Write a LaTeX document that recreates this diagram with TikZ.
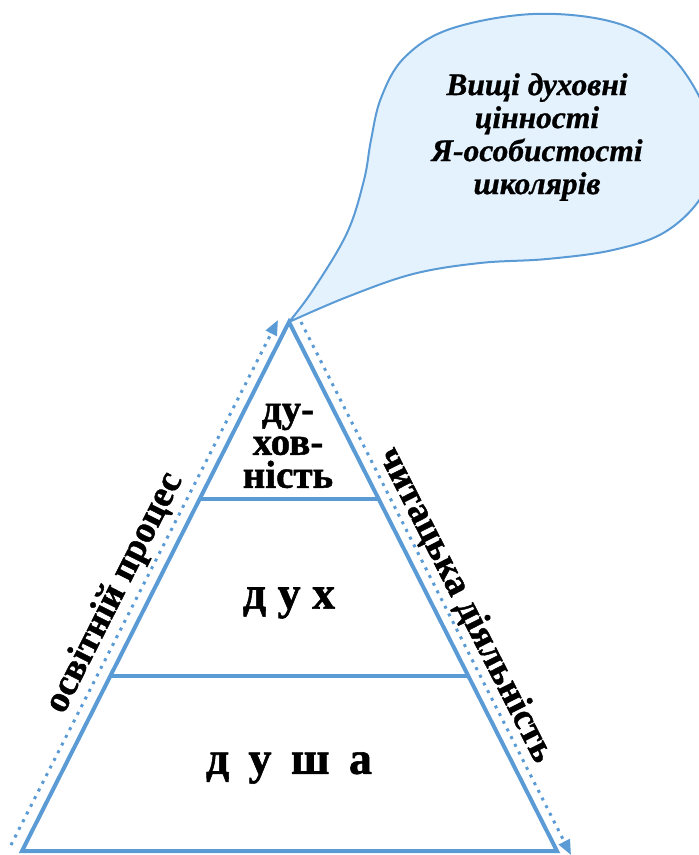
\documentclass[tikz,border=0pt]{standalone}
\usepackage{fontspec}
\setmainfont{Liberation Serif}[BoldFeatures={FakeBold=1.2},BoldItalicFeatures={FakeBold=0.8}]
\usetikzlibrary{arrows.meta,calc}
\definecolor{lineblue}{RGB}{91,155,213}
\definecolor{bubblefill}{RGB}{228,242,254}
\tikzset{
  side/.style={draw=lineblue, line width=4pt, line join=miter},
  level/.style={draw=lineblue, line width=4pt},
  dotline/.style={draw=lineblue, line width=3pt, dash pattern=on 3pt off 5.6pt, -{Triangle[length=15pt,width=12pt]}},
  bigword/.style={font=\bfseries\fontsize{46}{46}\selectfont, inner sep=0pt},
  sideword/.style={font=\bfseries\fontsize{37.5}{37.5}\selectfont, inner sep=0pt},
  topword/.style={font=\bfseries\fontsize{39}{33}\selectfont, align=center, inner sep=0pt},
  bubbleword/.style={font=\bfseries\itshape\fontsize{31.5}{33}\selectfont, align=center, inner sep=0pt}
}
\begin{document}
\begin{tikzpicture}[x=1pt,y=-1pt]
\useasboundingbox (0,0) rectangle (699,855);
\clip (0,0) rectangle (699,855);
% callout bubble
\filldraw[draw=lineblue, fill=bubblefill, line width=2pt]
  plot[smooth, tension=0.6] coordinates {(289,322) (313,290) (347,233) (364,180) (371,140) (381,98) (404,58) (450,29) (533,14) (613,22) (665,50) (700,98) (716,150) (702,196) (665,232) (613,250) (547,259) (480,263) (413,274) (347,297) (289,322)} -- cycle;
\node[bubbleword] (values) at (537,137) {Вищі духовні\\цінності\\Я-особистості\\школярів};
% triangle
\coordinate (A) at (289,322);
\coordinate (B) at (22,851);
\coordinate (C) at (557,851);
\draw[side] (A) -- (B) -- (C) -- cycle;
\coordinate (L1) at ($(A)!0.3346!(B)$);
\coordinate (R1) at ($(A)!0.3346!(C)$);
\coordinate (L2) at ($(A)!0.669!(B)$);
\coordinate (R2) at ($(A)!0.669!(C)$);
\draw[level] (L1) -- (R1);
\draw[level] (L2) -- (R2);
% dotted arrows
\coordinate (ls) at (11,845);
\coordinate (le) at (278,320);
\coordinate (rs) at (301,322);
\coordinate (re) at (571,855);
\draw[dotline] (ls) -- (le);
\draw[dotline] (rs) -- (re);
% texts
\node[topword] (spirituality) at (288,446) {ду-\\хов-\\ність};
\node[bigword] (spirit) at (289,603) {д у х};
\node[bigword] (soul) at (289,768) {д\hspace{0.42em}у\hspace{0.42em}ш\hspace{0.42em}а};
\node[sideword, rotate=63.2] (process) at (115,593) {освітній процес};
\node[sideword, rotate=-63.1] (reading) at (466,605) {читацька діяльність};
\end{tikzpicture}
\end{document}
